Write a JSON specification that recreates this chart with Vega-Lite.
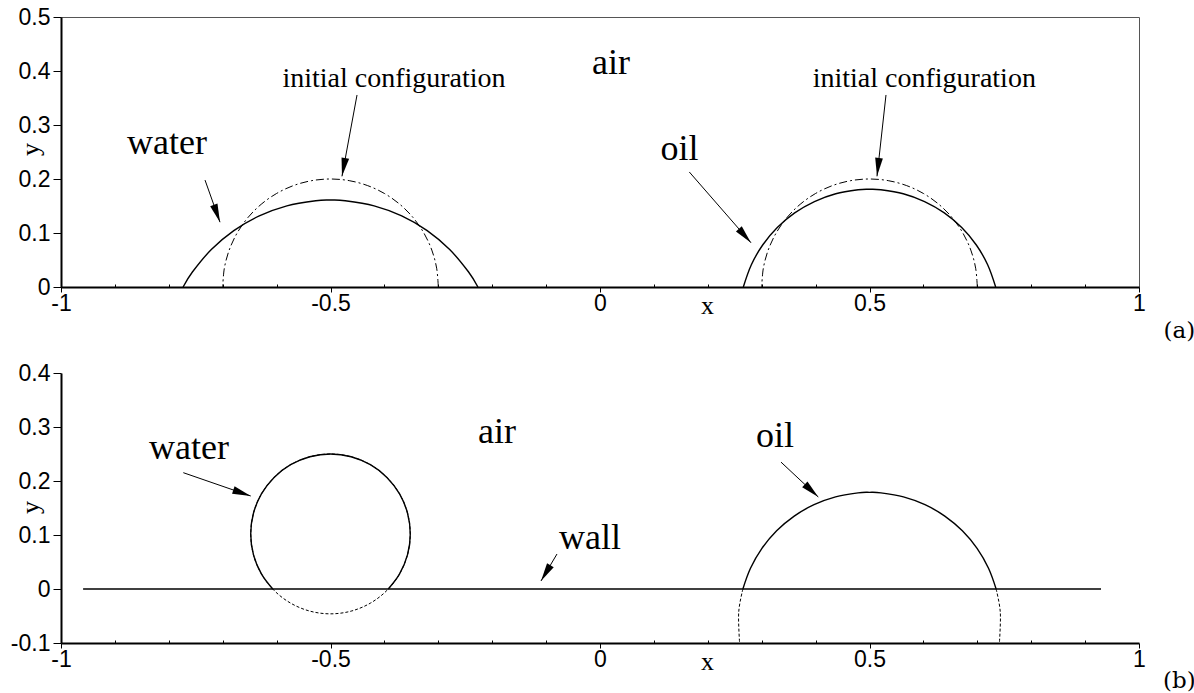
{
  "$schema": "https://vega.github.io/schema/vega-lite/v6.json",
  "padding": {"left": 10, "top": 5, "right": 0, "bottom": 0},
  "bounds": "flush",
  "spacing": 86,
  "background": "white",
  "config": {
    "font": "Liberation Sans",
    "view": {"stroke": null},
    "axis": {
      "grid": false,
      "domainColor": "black",
      "domainWidth": 2,
      "tickColor": "black",
      "tickWidth": 1,
      "labelFont": "Liberation Sans",
      "labelFontSize": 23,
      "labelColor": "black",
      "labelFlush": false,
      "labelOverlap": false,
      "titleFont": "Liberation Serif",
      "titleFontSize": 26,
      "titleFontWeight": "normal",
      "titleColor": "black"
    }
  },
  "datasets": {
    "a_water": [
      {"x": -0.7735, "y": 0}, {"x": -0.7562, "y": 0.0277}, {"x": -0.7211, "y": 0.0694}, {"x": -0.6794, "y": 0.1045},
      {"x": -0.6321, "y": 0.1317}, {"x": -0.5809, "y": 0.1503}, {"x": -0.5273, "y": 0.1598}, {"x": -0.5, "y": 0.161},
      {"x": -0.4727, "y": 0.1598}, {"x": -0.4191, "y": 0.1503}, {"x": -0.3679, "y": 0.1317}, {"x": -0.3206, "y": 0.1045},
      {"x": -0.2789, "y": 0.0694}, {"x": -0.2438, "y": 0.0277}, {"x": -0.2265, "y": 0}
    ],
    "a_water0": [
      {"x": -0.3, "y": 0}, {"x": -0.30304, "y": 0.03473}, {"x": -0.31206, "y": 0.0684}, {"x": -0.32679, "y": 0.1},
      {"x": -0.34679, "y": 0.12856}, {"x": -0.37144, "y": 0.15321}, {"x": -0.4, "y": 0.17321}, {"x": -0.4316, "y": 0.18794},
      {"x": -0.46527, "y": 0.19696}, {"x": -0.5, "y": 0.2}, {"x": -0.53473, "y": 0.19696}, {"x": -0.5684, "y": 0.18794},
      {"x": -0.6, "y": 0.17321}, {"x": -0.62856, "y": 0.15321}, {"x": -0.65321, "y": 0.12856}, {"x": -0.67321, "y": 0.1},
      {"x": -0.68794, "y": 0.0684}, {"x": -0.69696, "y": 0.03473}, {"x": -0.7, "y": 0}
    ],
    "a_oil": [
      {"x": 0.2659, "y": 0}, {"x": 0.2808, "y": 0.0412}, {"x": 0.3018, "y": 0.0778}, {"x": 0.3289, "y": 0.1101},
      {"x": 0.3612, "y": 0.1372}, {"x": 0.3978, "y": 0.1582}, {"x": 0.4374, "y": 0.1727}, {"x": 0.4789, "y": 0.18},
      {"x": 0.5, "y": 0.1809}, {"x": 0.5211, "y": 0.18}, {"x": 0.5626, "y": 0.1727}, {"x": 0.6022, "y": 0.1582},
      {"x": 0.6388, "y": 0.1372}, {"x": 0.6711, "y": 0.1101}, {"x": 0.6982, "y": 0.0778}, {"x": 0.7192, "y": 0.0412},
      {"x": 0.7341, "y": 0}
    ],
    "a_oil0": [
      {"x": 0.7, "y": 0}, {"x": 0.69696, "y": 0.03473}, {"x": 0.68794, "y": 0.0684}, {"x": 0.67321, "y": 0.1},
      {"x": 0.65321, "y": 0.12856}, {"x": 0.62856, "y": 0.15321}, {"x": 0.6, "y": 0.17321}, {"x": 0.5684, "y": 0.18794},
      {"x": 0.53473, "y": 0.19696}, {"x": 0.5, "y": 0.2}, {"x": 0.46527, "y": 0.19696}, {"x": 0.4316, "y": 0.18794},
      {"x": 0.4, "y": 0.17321}, {"x": 0.37144, "y": 0.15321}, {"x": 0.34679, "y": 0.12856}, {"x": 0.32679, "y": 0.1},
      {"x": 0.31206, "y": 0.0684}, {"x": 0.30304, "y": 0.03473}, {"x": 0.3, "y": 0}
    ],
    "b_water": [
      {"x": -0.3929, "y": 0}, {"x": -0.37183, "y": 0.028}, {"x": -0.35705, "y": 0.0637}, {"x": -0.352, "y": 0.102},
      {"x": -0.35705, "y": 0.1403}, {"x": -0.37183, "y": 0.176}, {"x": -0.39535, "y": 0.20665}, {"x": -0.426, "y": 0.23017},
      {"x": -0.4617, "y": 0.24495}, {"x": -0.5, "y": 0.25}, {"x": -0.5383, "y": 0.24495}, {"x": -0.574, "y": 0.23017},
      {"x": -0.60465, "y": 0.20665}, {"x": -0.62817, "y": 0.176}, {"x": -0.64295, "y": 0.1403}, {"x": -0.648, "y": 0.102},
      {"x": -0.64295, "y": 0.0637}, {"x": -0.62817, "y": 0.028}, {"x": -0.6071, "y": 0}
    ],
    "b_water0": [
      {"x": -0.352, "y": 0.102}, {"x": -0.35705, "y": 0.1403}, {"x": -0.37183, "y": 0.176}, {"x": -0.39535, "y": 0.20665},
      {"x": -0.426, "y": 0.23017}, {"x": -0.4617, "y": 0.24495}, {"x": -0.5, "y": 0.25}, {"x": -0.5383, "y": 0.24495},
      {"x": -0.574, "y": 0.23017}, {"x": -0.60465, "y": 0.20665}, {"x": -0.62817, "y": 0.176}, {"x": -0.64295, "y": 0.1403},
      {"x": -0.648, "y": 0.102}, {"x": -0.64295, "y": 0.0637}, {"x": -0.62817, "y": 0.028}, {"x": -0.60465, "y": -0.00265},
      {"x": -0.574, "y": -0.02617}, {"x": -0.5383, "y": -0.04095}, {"x": -0.5, "y": -0.046}, {"x": -0.4617, "y": -0.04095},
      {"x": -0.426, "y": -0.02617}, {"x": -0.39535, "y": -0.00265}, {"x": -0.37183, "y": 0.028}, {"x": -0.35705, "y": 0.0637}
    ],
    "b_oil": [
      {"x": 0.2651, "y": 0}, {"x": 0.2792, "y": 0.0383}, {"x": 0.3004, "y": 0.0751}, {"x": 0.3277, "y": 0.1077},
      {"x": 0.3603, "y": 0.135}, {"x": 0.3971, "y": 0.1562}, {"x": 0.437, "y": 0.1707}, {"x": 0.4788, "y": 0.1781},
      {"x": 0.5, "y": 0.179}, {"x": 0.5212, "y": 0.1781}, {"x": 0.563, "y": 0.1707}, {"x": 0.6029, "y": 0.1562},
      {"x": 0.6397, "y": 0.135}, {"x": 0.6723, "y": 0.1077}, {"x": 0.6996, "y": 0.0751}, {"x": 0.7208, "y": 0.0383},
      {"x": 0.7349, "y": 0}
    ],
    "b_oil0": [
      {"s": "right", "x": 0.7349, "y": 0}, {"s": "right", "x": 0.7427, "y": -0.0434}, {"s": "right", "x": 0.741, "y": -0.1},
      {"s": "left", "x": 0.2651, "y": 0}, {"s": "left", "x": 0.2573, "y": -0.0434}, {"s": "left", "x": 0.259, "y": -0.1}
    ],
    "b_wall": [{"x": -0.959, "y": 0}, {"x": 0.9295, "y": 0}],
    "labels_a": [
      {"t": "air", "k": "big", "x": 0.0204, "y": 0.394},
      {"t": "water", "k": "big", "x": -0.8033, "y": 0.247},
      {"t": "oil", "k": "big", "x": 0.1475, "y": 0.235},
      {"t": "initial configuration", "k": "small", "x": -0.3822, "y": 0.37},
      {"t": "initial configuration", "k": "small", "x": 0.6017, "y": 0.37},
      {"t": "(a)", "k": "panel", "x": 1.075, "y": -0.0944}
    ],
    "labels_b": [
      {"t": "air", "k": "big", "x": -0.1911, "y": 0.27},
      {"t": "water", "k": "big", "x": -0.7625, "y": 0.2407},
      {"t": "wall", "k": "big", "x": -0.0186, "y": 0.074},
      {"t": "oil", "k": "big", "x": 0.3247, "y": 0.263},
      {"t": "(b)", "k": "panel", "x": 1.075, "y": -0.1833}
    ],
    "arrows_a": [
      {"x": -0.7328, "y": 0.198, "x2": -0.705, "y2": 0.12},
      {"x": -0.4508, "y": 0.3556, "x2": -0.4787, "y2": 0.205},
      {"x": 0.5306, "y": 0.3556, "x2": 0.5139, "y2": 0.205},
      {"x": 0.1657, "y": 0.213, "x2": 0.2801, "y2": 0.082}
    ],
    "arrows_b": [
      {"x": -0.7731, "y": 0.2154, "x2": -0.648, "y2": 0.1722},
      {"x": -0.0798, "y": 0.0648, "x2": -0.1095, "y2": 0.0148},
      {"x": 0.3358, "y": 0.235, "x2": 0.405, "y2": 0.1704}
    ]
  },
  "vconcat": [
    {
      "width": 1078,
      "height": 270,
      "view": {"stroke": "#555555", "strokeWidth": 1},
      "layer": [
        {
          "data": {"name": "a_water0"},
          "mark": {"type": "line", "color": "black", "strokeWidth": 1, "strokeDash": [8, 3, 2, 3], "interpolate": "cardinal"},
          "encoding": {
            "x": {"field": "x", "type": "quantitative", "scale": {"domain": [-1, 1], "nice": false, "zero": false},
              "axis": {"title": "x", "values": [-1, -0.9, -0.8, -0.7, -0.6, -0.5, -0.4, -0.3, -0.2, -0.1, 0, 0.1, 0.2, 0.3, 0.4, 0.5, 0.6, 0.7, 0.8, 0.9, 1],
                "labelExpr": "indexof([-1, -0.5, 0, 0.5, 1], datum.value) >= 0 ? datum.value + '' : ''",
                "tickSize": {"condition": {"test": "indexof([-1, -0.5, 0, 0.5, 1], datum.value) >= 0", "value": 5}, "value": -3},
                "labelPadding": 0, "titleX": 646, "titleY": 26, "titleBaseline": "alphabetic", "titleAlign": "center"}},
            "y": {"field": "y", "type": "quantitative", "scale": {"domain": [0, 0.5], "nice": false, "zero": false},
              "axis": {"title": "y", "values": [0, 0.025, 0.05, 0.075, 0.1, 0.125, 0.15, 0.175, 0.2, 0.225, 0.25, 0.275, 0.3, 0.325, 0.35, 0.375, 0.4, 0.425, 0.45, 0.475, 0.5],
                "labelExpr": "indexof([0, 0.1, 0.2, 0.3, 0.4, 0.5], datum.value) >= 0 ? datum.value + '' : ''",
                "tickSize": {"condition": {"test": "indexof([0, 0.1, 0.2, 0.3, 0.4, 0.5], datum.value) >= 0", "value": 8}, "value": -3},
                "labelPadding": 3, "titleX": -31, "titleY": 132, "titleAngle": 270, "titleAlign": "center", "titleBaseline": "middle"}},
            "order": {"value": null}
          }
        },
        {
          "data": {"name": "a_oil0"},
          "mark": {"type": "line", "color": "black", "strokeWidth": 1, "strokeDash": [8, 3, 2, 3], "interpolate": "cardinal"},
          "encoding": {"x": {"field": "x", "type": "quantitative"}, "y": {"field": "y", "type": "quantitative"}, "order": {"value": null}}
        },
        {
          "data": {"name": "a_water"},
          "mark": {"type": "line", "color": "black", "strokeWidth": 1.4, "interpolate": "cardinal"},
          "encoding": {"x": {"field": "x", "type": "quantitative"}, "y": {"field": "y", "type": "quantitative"}, "order": {"value": null}}
        },
        {
          "data": {"name": "a_oil"},
          "mark": {"type": "line", "color": "black", "strokeWidth": 1.4, "interpolate": "cardinal"},
          "encoding": {"x": {"field": "x", "type": "quantitative"}, "y": {"field": "y", "type": "quantitative"}, "order": {"value": null}}
        },
        {
          "data": {"name": "arrows_a"},
          "mark": {"type": "rule", "color": "black", "strokeWidth": 1},
          "encoding": {"x": {"field": "x", "type": "quantitative"}, "y": {"field": "y", "type": "quantitative"}, "x2": {"field": "x2"}, "y2": {"field": "y2"}}
        },
        {
          "data": {"name": "arrows_a"},
          "transform": [{"calculate": "atan2(datum.x2 - datum.x, datum.y2 - datum.y) * 180 / PI", "as": "ang"}],
          "mark": {"type": "point", "shape": "M0,0L0.42,2L-0.42,2Z", "filled": true, "color": "black", "opacity": 1, "size": 340, "strokeWidth": 0},
          "encoding": {"x": {"field": "x2", "type": "quantitative"}, "y": {"field": "y2", "type": "quantitative"}, "angle": {"field": "ang", "type": "quantitative", "scale": null}}
        },
        {
          "data": {"name": "labels_a"},
          "transform": [{"filter": "datum.k == 'big'"}],
          "mark": {"type": "text", "font": "Liberation Serif", "fontSize": 36, "align": "center", "baseline": "alphabetic", "color": "black"},
          "encoding": {"x": {"field": "x", "type": "quantitative"}, "y": {"field": "y", "type": "quantitative"}, "text": {"field": "t"}}
        },
        {
          "data": {"name": "labels_a"},
          "transform": [{"filter": "datum.k == 'small'"}],
          "mark": {"type": "text", "font": "Liberation Serif", "fontSize": 28, "align": "center", "baseline": "alphabetic", "color": "black"},
          "encoding": {"x": {"field": "x", "type": "quantitative"}, "y": {"field": "y", "type": "quantitative"}, "text": {"field": "t"}}
        },
        {
          "data": {"name": "labels_a"},
          "transform": [{"filter": "datum.k == 'panel'"}],
          "mark": {"type": "text", "font": "DejaVu Serif", "fontSize": 23, "align": "center", "baseline": "alphabetic", "color": "black"},
          "encoding": {"x": {"field": "x", "type": "quantitative"}, "y": {"field": "y", "type": "quantitative"}, "text": {"field": "t"}}
        }
      ]
    },
    {
      "width": 1078,
      "height": 270,
      "layer": [
        {
          "data": {"name": "b_wall"},
          "mark": {"type": "line", "color": "black", "strokeWidth": 1.4},
          "encoding": {
            "x": {"field": "x", "type": "quantitative", "scale": {"domain": [-1, 1], "nice": false, "zero": false},
              "axis": {"title": "x", "values": [-1, -0.9, -0.8, -0.7, -0.6, -0.5, -0.4, -0.3, -0.2, -0.1, 0, 0.1, 0.2, 0.3, 0.4, 0.5, 0.6, 0.7, 0.8, 0.9, 1],
                "labelExpr": "indexof([-1, -0.5, 0, 0.5, 1], datum.value) >= 0 ? datum.value + '' : ''",
                "tickSize": {"condition": {"test": "indexof([-1, -0.5, 0, 0.5, 1], datum.value) >= 0", "value": 5}, "value": -3},
                "labelPadding": 0, "titleX": 646, "titleY": 26, "titleBaseline": "alphabetic", "titleAlign": "center"}},
            "y": {"field": "y", "type": "quantitative", "scale": {"domain": [-0.1, 0.4], "nice": false, "zero": false},
              "axis": {"title": "y", "values": [-0.1, -0.075, -0.05, -0.025, 0, 0.025, 0.05, 0.075, 0.1, 0.125, 0.15, 0.175, 0.2, 0.225, 0.25, 0.275, 0.3, 0.325, 0.35, 0.375, 0.4],
                "labelExpr": "indexof([-0.1, 0, 0.1, 0.2, 0.3, 0.4], datum.value) >= 0 ? datum.value + '' : ''",
                "tickSize": {"condition": {"test": "indexof([-0.1, 0, 0.1, 0.2, 0.3, 0.4], datum.value) >= 0", "value": 8}, "value": -3},
                "labelPadding": 3, "titleX": -31, "titleY": 134, "titleAngle": 270, "titleAlign": "center", "titleBaseline": "middle"}},
            "order": {"value": null}
          }
        },
        {
          "data": {"name": "b_water0"},
          "mark": {"type": "line", "color": "black", "strokeWidth": 1, "strokeDash": [3, 2], "interpolate": "cardinal-closed"},
          "encoding": {"x": {"field": "x", "type": "quantitative"}, "y": {"field": "y", "type": "quantitative"}, "order": {"value": null}}
        },
        {
          "data": {"name": "b_oil0"},
          "mark": {"type": "line", "color": "black", "strokeWidth": 1, "strokeDash": [3, 2], "interpolate": "cardinal"},
          "encoding": {"x": {"field": "x", "type": "quantitative"}, "y": {"field": "y", "type": "quantitative"}, "detail": {"field": "s"}, "order": {"value": null}}
        },
        {
          "data": {"name": "b_water"},
          "mark": {"type": "line", "color": "black", "strokeWidth": 1.4, "interpolate": "cardinal"},
          "encoding": {"x": {"field": "x", "type": "quantitative"}, "y": {"field": "y", "type": "quantitative"}, "order": {"value": null}}
        },
        {
          "data": {"name": "b_oil"},
          "mark": {"type": "line", "color": "black", "strokeWidth": 1.4, "interpolate": "cardinal"},
          "encoding": {"x": {"field": "x", "type": "quantitative"}, "y": {"field": "y", "type": "quantitative"}, "order": {"value": null}}
        },
        {
          "data": {"name": "arrows_b"},
          "mark": {"type": "rule", "color": "black", "strokeWidth": 1},
          "encoding": {"x": {"field": "x", "type": "quantitative"}, "y": {"field": "y", "type": "quantitative"}, "x2": {"field": "x2"}, "y2": {"field": "y2"}}
        },
        {
          "data": {"name": "arrows_b"},
          "transform": [{"calculate": "atan2(datum.x2 - datum.x, datum.y2 - datum.y) * 180 / PI", "as": "ang"}],
          "mark": {"type": "point", "shape": "M0,0L0.42,2L-0.42,2Z", "filled": true, "color": "black", "opacity": 1, "size": 340, "strokeWidth": 0},
          "encoding": {"x": {"field": "x2", "type": "quantitative"}, "y": {"field": "y2", "type": "quantitative"}, "angle": {"field": "ang", "type": "quantitative", "scale": null}}
        },
        {
          "data": {"name": "labels_b"},
          "transform": [{"filter": "datum.k == 'big'"}],
          "mark": {"type": "text", "font": "Liberation Serif", "fontSize": 36, "align": "center", "baseline": "alphabetic", "color": "black"},
          "encoding": {"x": {"field": "x", "type": "quantitative"}, "y": {"field": "y", "type": "quantitative"}, "text": {"field": "t"}}
        },
        {
          "data": {"name": "labels_b"},
          "transform": [{"filter": "datum.k == 'panel'"}],
          "mark": {"type": "text", "font": "DejaVu Serif", "fontSize": 23, "align": "center", "baseline": "alphabetic", "color": "black"},
          "encoding": {"x": {"field": "x", "type": "quantitative"}, "y": {"field": "y", "type": "quantitative"}, "text": {"field": "t"}}
        }
      ]
    }
  ]
}
